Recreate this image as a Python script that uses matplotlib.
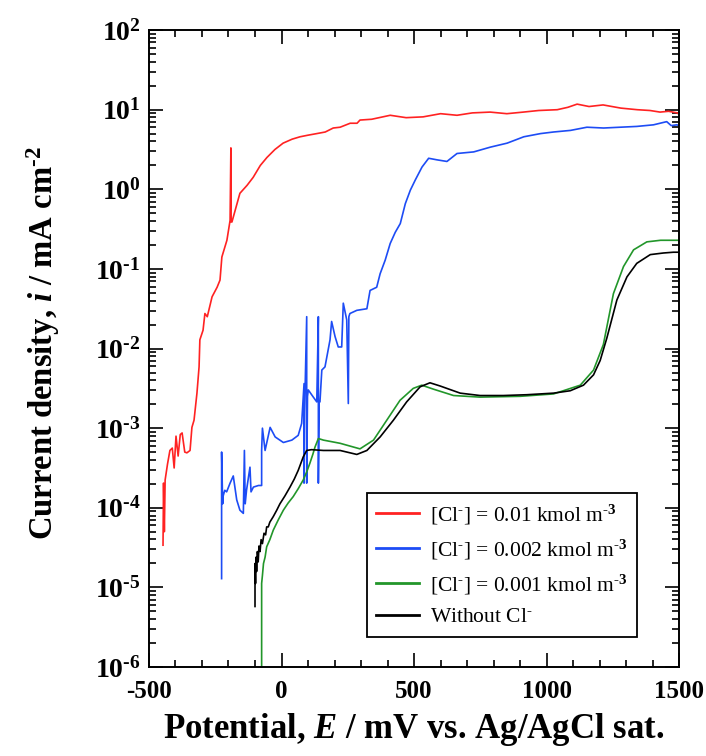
import numpy as np
import matplotlib
matplotlib.use('Agg')
import matplotlib.pyplot as plt
from matplotlib.ticker import LogLocator, MultipleLocator, FuncFormatter, NullFormatter

# data: potential (mV) and log10 of current density (mA cm-2)
red_E = [-447, -445, -442, -439, -430, -421, -412, -405, -398, -390, -382, -375, -365, -357, -345,
         -338, -330, -319, -311, -308, -296, -289, -280, -262, -243, -232, -225, -206, -194, -191,
         -190, -187, -157, -130, -107, -80, -55, -25, 6, 40, 70, 100, 133, 165, 195, 221, 259, 285,
         296, 340, 410, 470, 534, 600, 662, 720, 787, 850, 912, 970, 1040, 1080, 1115, 1160, 1213,
         1280, 1342, 1390, 1428, 1460, 1493, 1500]
red_logi = [-4.47, -3.69, -4.30, -3.65, -3.45, -3.28, -3.25, -3.50, -3.10, -3.35, -3.08, -3.06, -3.30,
            -3.31, -3.28, -2.99, -2.90, -2.56, -2.23, -1.89, -1.77, -1.56, -1.60, -1.35, -1.23, -1.14,
            -0.85, -0.64, -0.39, 0.52, -0.41, -0.41, -0.05, 0.05, 0.15, 0.30, 0.40, 0.50, 0.58, 0.63,
            0.66, 0.68, 0.70, 0.72, 0.77, 0.78, 0.83, 0.83, 0.87, 0.88, 0.93, 0.90, 0.91, 0.95, 0.93,
            0.96, 0.97, 0.95, 0.97, 0.99, 1.00, 1.03, 1.07, 1.04, 1.06, 1.02, 1.00, 0.99, 0.97, 0.98,
            0.96, 0.94]

blue_E = [-226, -226, -222, -220, -214, -207, -194, -182, -169, -157, -144, -140, -137, -132, -119,
          -115, -106, -87, -75, -75, -72, -62, -43, -24, 7, 39, 63, 76, 85, 85, 87, 95, 95, 98, 101,
          120, 133, 139, 139, 142, 145, 152, 164, 183, 189, 202, 214, 227, 233, 246, 252, 254, 258,
          284, 322, 334, 359, 372, 391, 410, 429, 448, 467, 486, 505, 530, 555, 587, 624, 662, 725,
          788, 851, 914, 977, 1026, 1090, 1152, 1215, 1277, 1340, 1403, 1453, 1470, 1491, 1500]
blue_logi = [-4.89, -3.30, -3.95, -3.85, -3.78, -3.80, -3.69, -3.60, -3.90, -4.03, -4.07, -3.28, -3.95,
             -3.78, -3.49, -3.80, -3.74, -3.72, -3.72, -3.28, -3.00, -3.28, -2.99, -3.11, -3.18, -3.15,
             -3.09, -2.94, -2.44, -3.69, -2.80, -1.60, -3.69, -2.60, -2.52, -2.61, -2.67, -1.60, -3.69,
             -2.67, -2.67, -2.27, -2.23, -1.89, -1.66, -1.85, -1.98, -1.98, -1.43, -1.64, -2.69, -1.60,
             -1.56, -1.52, -1.50, -1.27, -1.23, -1.06, -0.89, -0.68, -0.54, -0.43, -0.18, -0.01, 0.12,
             0.28, 0.39, 0.37, 0.35, 0.45, 0.47, 0.53, 0.58, 0.66, 0.70, 0.72, 0.74, 0.78, 0.77, 0.78,
             0.79, 0.81, 0.85, 0.80, 0.81, 0.80]

green_E = [-75, -75, -72, -68, -62, -56, -44, -31, -12, 7, 25, 44, 63, 82, 95, 107, 118, 126, 139, 158,
           221, 296, 347, 397, 447, 497, 529, 573, 649, 749, 900, 1026, 1127, 1177, 1214, 1252, 1290,
           1328, 1378, 1430, 1500]
green_logi = [-7.0, -4.95, -4.85, -4.70, -4.62, -4.49, -4.40, -4.28, -4.15, -4.03, -3.94, -3.86, -3.76,
              -3.65, -3.55, -3.44, -3.33, -3.24, -3.13, -3.15, -3.19, -3.26, -3.15, -2.90, -2.65, -2.50,
              -2.46, -2.51, -2.59, -2.61, -2.60, -2.57, -2.46, -2.27, -1.95, -1.31, -0.97, -0.76, -0.66,
              -0.64, -0.64]

black_E = [-100, -100, -98, -96, -94, -91, -88, -85, -81, -77, -72, -66, -60, -56, -50, -44, -31, -18,
           -6, 13, 32, 48, 63, 82, 95, 113, 158, 221, 284, 322, 372, 422, 472, 523, 560, 598, 674, 749,
           837, 925, 1026, 1089, 1139, 1177, 1202, 1227, 1265, 1303, 1340, 1391, 1440, 1478, 1500]
black_logi = [-5.24, -4.70, -4.95, -4.62, -4.80, -4.55, -4.68, -4.48, -4.55, -4.40, -4.45, -4.32, -4.34,
              -4.24, -4.24, -4.18, -4.11, -4.03, -3.95, -3.85, -3.74, -3.64, -3.53, -3.36, -3.28, -3.27,
              -3.28, -3.28, -3.33, -3.28, -3.11, -2.90, -2.67, -2.48, -2.43, -2.47, -2.56, -2.59, -2.59,
              -2.58, -2.56, -2.53, -2.46, -2.33, -2.15, -1.87, -1.39, -1.10, -0.93, -0.82, -0.80, -0.79,
              -0.79]

HY = '\u2010'  # short hyphen for superscripts, like the original
labels = [r'[Cl$^{%s}$] = 0.01 kmol m$^{%s3}$' % (HY, HY),
          r'[Cl$^{%s}$] = 0.002 kmol m$^{%s3}$' % (HY, HY),
          r'[Cl$^{%s}$] = 0.001 kmol m$^{%s3}$' % (HY, HY),
          r'Without Cl$^{%s}$' % HY]

# fonts ______________________________________________________________________
plt.rcParams['font.family'] = 'Liberation Serif'
plt.rcParams['font.weight'] = 'bold'
plt.rcParams['axes.unicode_minus'] = False
plt.rcParams['mathtext.fontset'] = 'custom'
plt.rcParams['mathtext.rm'] = 'Liberation Serif'
plt.rcParams['mathtext.it'] = 'Liberation Serif:italic'
plt.rcParams['mathtext.bf'] = 'Liberation Serif:bold'
plt.rcParams['mathtext.bfit'] = 'Liberation Serif:italic:bold'

fig = plt.figure(figsize=(7.06, 7.56), dpi=100)
ax = fig.add_axes([0.211, 0.1177, 0.751, 0.8425])

lw = 1.2
ax.plot(red_E, 10 ** np.array(red_logi), color='#ff2222', lw=lw, label=labels[0])
ax.plot(blue_E, 10 ** np.array(blue_logi), color='#1d4cf5', lw=lw, label=labels[1])
ax.plot(green_E, 10 ** np.array(green_logi), color='#22962a', lw=lw, label=labels[2])
ax.plot(black_E, 10 ** np.array(black_logi), color='black', lw=lw, label=labels[3])

ax.set_yscale('log')
ax.set_xlim(-500, 1500)
ax.set_ylim(1e-6, 1e2)


def fmt_pow(v, p):
    n = int(round(np.log10(v)))
    s = str(n).replace('-', HY)
    return r'$\mathbf{10^{%s}}$' % s


ax.xaxis.set_major_locator(MultipleLocator(500))
ax.xaxis.set_minor_locator(MultipleLocator(100))
ax.yaxis.set_major_locator(LogLocator(base=10, numticks=20))
ax.yaxis.set_minor_locator(LogLocator(base=10, subs=np.arange(2, 10), numticks=20))
ax.yaxis.set_minor_formatter(NullFormatter())
ax.yaxis.set_major_formatter(FuncFormatter(fmt_pow))

ax.tick_params(which='both', direction='in', top=True, right=True, width=1.2)
ax.tick_params(which='major', length=10)
ax.tick_params(which='minor', length=5)
ax.tick_params(axis='x', labelsize=18, pad=9)
ax.tick_params(axis='y', labelsize=20, pad=6)
for s in ax.spines.values():
    s.set_linewidth(1.4)

ax.set_xlabel(r'Potential, $\mathbfit{E}$ / mV vs. Ag/AgCl sat.', fontsize=25, fontweight='bold')
ax.xaxis.set_label_coords(0.5, -0.069)
ax.set_ylabel(r'Current density, $\mathbfit{i}$ / mA cm$^{\mathbf{%s2}}$' % HY, fontsize=23.5,
              fontweight='bold')
ax.yaxis.set_label_coords(-0.164, 0.509)

leg = ax.legend(loc='lower right', bbox_to_anchor=(0.921, 0.047), borderaxespad=0,
                prop={'weight': 'normal', 'size': 15.5}, fancybox=False, edgecolor='black',
                framealpha=1, handlelength=2.0, handletextpad=0.5, labelspacing=0.5, borderpad=0.45)
leg.get_frame().set_linewidth(1.3)
for l in leg.get_lines():
    l.set_linewidth(2)

fig.savefig('out.png', dpi=100)
